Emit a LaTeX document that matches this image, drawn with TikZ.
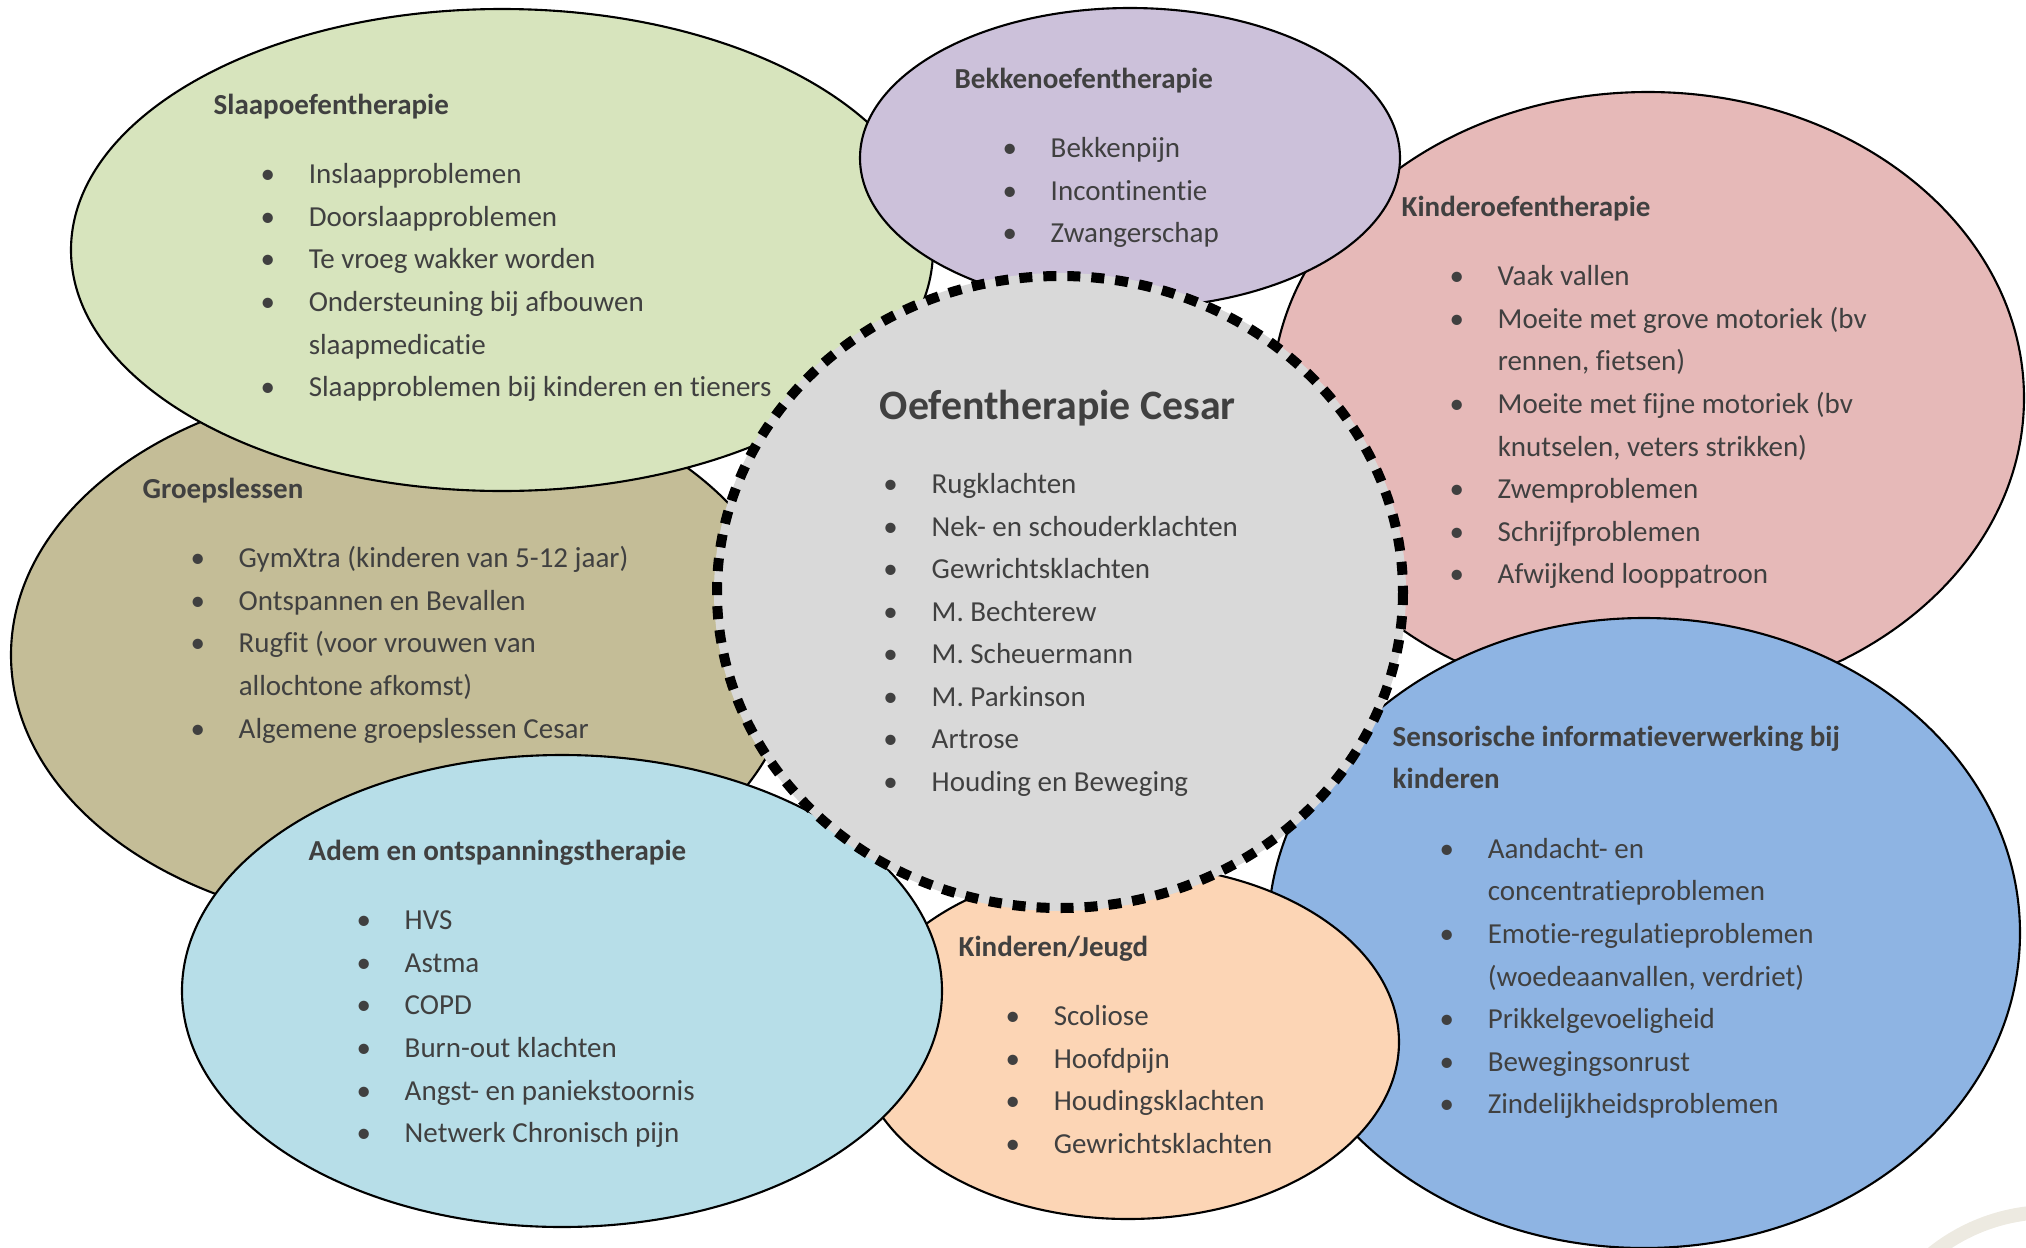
\documentclass[tikz,border=0pt]{standalone}
\usepackage{fontspec}
\setmainfont{Carlito}[Ligatures=NoCommon]
\usepackage{array}
\definecolor{slaapgroen}{HTML}{D7E4BD}
\definecolor{bekkenpaars}{HTML}{CCC1DA}
\definecolor{kinderroze}{HTML}{E6B9B8}
\definecolor{groepkhaki}{HTML}{C4BD97}
\definecolor{ademblauw}{HTML}{B7DEE8}
\definecolor{jeugdperzik}{HTML}{FCD5B5}
\definecolor{sensblauw}{HTML}{8EB4E3}
\definecolor{cesargrijs}{HTML}{D9D9D9}
\definecolor{tekstgrijs}{HTML}{404040}
\definecolor{logobeige}{HTML}{EDEAE1}

\newenvironment{lijst}[1]{\def\bulin{#1}\begin{tabular}[t]{@{}p{\dimexpr#1+0.41cm\relax}@{}l@{}}}{\end{tabular}}
\newcommand{\bul}{\hspace*{\bulin}\makebox[0pt]{\textbullet}}
\newcommand{\kop}[1]{\multicolumn{2}{@{}l@{}}{\bfseries #1}}
\newcommand{\titel}[1]{\multicolumn{2}{@{}l@{}}{\fontsize{11.9}{14}\selectfont\bfseries #1}}

\tikzset{
  blob/.style={draw=black, line width=0.6pt},
  tekst/.style={anchor=base west, inner sep=0pt, text=tekstgrijs, font=\fontsize{8.25}{12.09}\selectfont}
}

\begin{document}
\begin{tikzpicture}[x=0.01cm, y=-0.01cm]
\useasboundingbox (0,0) rectangle (2026,1248);

\draw[logobeige, line width=0.14cm] (2050,1400) circle [radius=188];

\filldraw[blob, fill=groepkhaki] (403,655) ellipse [x radius=392, y radius=272];
\filldraw[blob, fill=slaapgroen] (502,250) ellipse [x radius=431, y radius=241];
\filldraw[blob, fill=kinderroze] (1648,398) ellipse [x radius=376, y radius=306];
\filldraw[blob, fill=bekkenpaars] (1130,158) ellipse [x radius=270, y radius=150];
\filldraw[blob, fill=sensblauw] (1644,933) ellipse [x radius=376, y radius=315];
\filldraw[blob, fill=jeugdperzik] (1128,1042) ellipse [x radius=271, y radius=177];
\filldraw[blob, fill=ademblauw] (562,991) ellipse [x radius=380, y radius=236];

\fill[cesargrijs] (1060,592) ellipse [x radius=346, y radius=319];
\draw[line width=0.1cm, dash pattern=on 0.13cm off 0.11cm] (1060,592) ellipse [x radius=343, y radius=316];

\node[tekst] (slaap) at (213,114) {\begin{lijst}{0.54cm}
\kop{Slaapoefentherapie}\\[7.8pt]
\bul & Inslaapproblemen\\
\bul & Doorslaapproblemen\\
\bul & Te vroeg wakker worden\\
\bul & Ondersteuning bij afbouwen\\
     & slaapmedicatie\\
\bul & Slaapproblemen bij kinderen en tieners
\end{lijst}};

\node[tekst] (bekken) at (954,88) {\begin{lijst}{0.55cm}
\kop{Bekkenoefentherapie}\\[7.8pt]
\bul & Bekkenpijn\\
\bul & Incontinentie\\
\bul & Zwangerschap
\end{lijst}};

\node[tekst] (kinder) at (1401,216) {\begin{lijst}{0.55cm}
\kop{Kinderoefentherapie}\\[7.8pt]
\bul & Vaak vallen\\
\bul & Moeite met grove motoriek (bv\\
     & rennen, fietsen)\\
\bul & Moeite met fijne motoriek (bv\\
     & knutselen, veters strikken)\\
\bul & Zwemproblemen\\
\bul & Schrijfproblemen\\
\bul & Afwijkend looppatroon
\end{lijst}};

\node[tekst] (groep) at (142,498) {\begin{lijst}{0.55cm}
\kop{Groepslessen}\\[7.8pt]
\bul & GymXtra (kinderen van 5-12 jaar)\\
\bul & Ontspannen en Bevallen\\
\bul & Rugfit (voor vrouwen van\\
     & allochtone afkomst)\\
\bul & Algemene groepslessen Cesar
\end{lijst}};

\node[tekst] (cesar) at (879,419) {\begin{lijst}{0.11cm}
\titel{Oefentherapie Cesar}\\[9.2pt]
\bul & Rugklachten\\
\bul & Nek- en schouderklachten\\
\bul & Gewrichtsklachten\\
\bul & M. Bechterew\\
\bul & M. Scheuermann\\
\bul & M. Parkinson\\
\bul & Artrose\\
\bul & Houding en Beweging
\end{lijst}};

\node[tekst] (adem) at (308,860) {\begin{lijst}{0.55cm}
\kop{Adem en ontspanningstherapie}\\[7.8pt]
\bul & HVS\\
\bul & Astma\\
\bul & COPD\\
\bul & Burn-out klachten\\
\bul & Angst- en paniekstoornis\\
\bul & Netwerk Chronisch pijn
\end{lijst}};

\node[tekst] (jeugd) at (958,956) {\begin{lijst}{0.54cm}
\kop{Kinderen/Jeugd}\\[7.8pt]
\bul & Scoliose\\
\bul & Hoofdpijn\\
\bul & Houdingsklachten\\
\bul & Gewrichtsklachten
\end{lijst}};

\node[tekst] (sens) at (1392,746) {\begin{lijst}{0.54cm}
\kop{Sensorische informatieverwerking bij}\\
\kop{kinderen}\\[7.8pt]
\bul & Aandacht- en\\
     & concentratieproblemen\\
\bul & Emotie-regulatieproblemen\\
     & (woedeaanvallen, verdriet)\\
\bul & Prikkelgevoeligheid\\
\bul & Bewegingsonrust\\
\bul & Zindelijkheidsproblemen
\end{lijst}};
\end{tikzpicture}
\end{document}
